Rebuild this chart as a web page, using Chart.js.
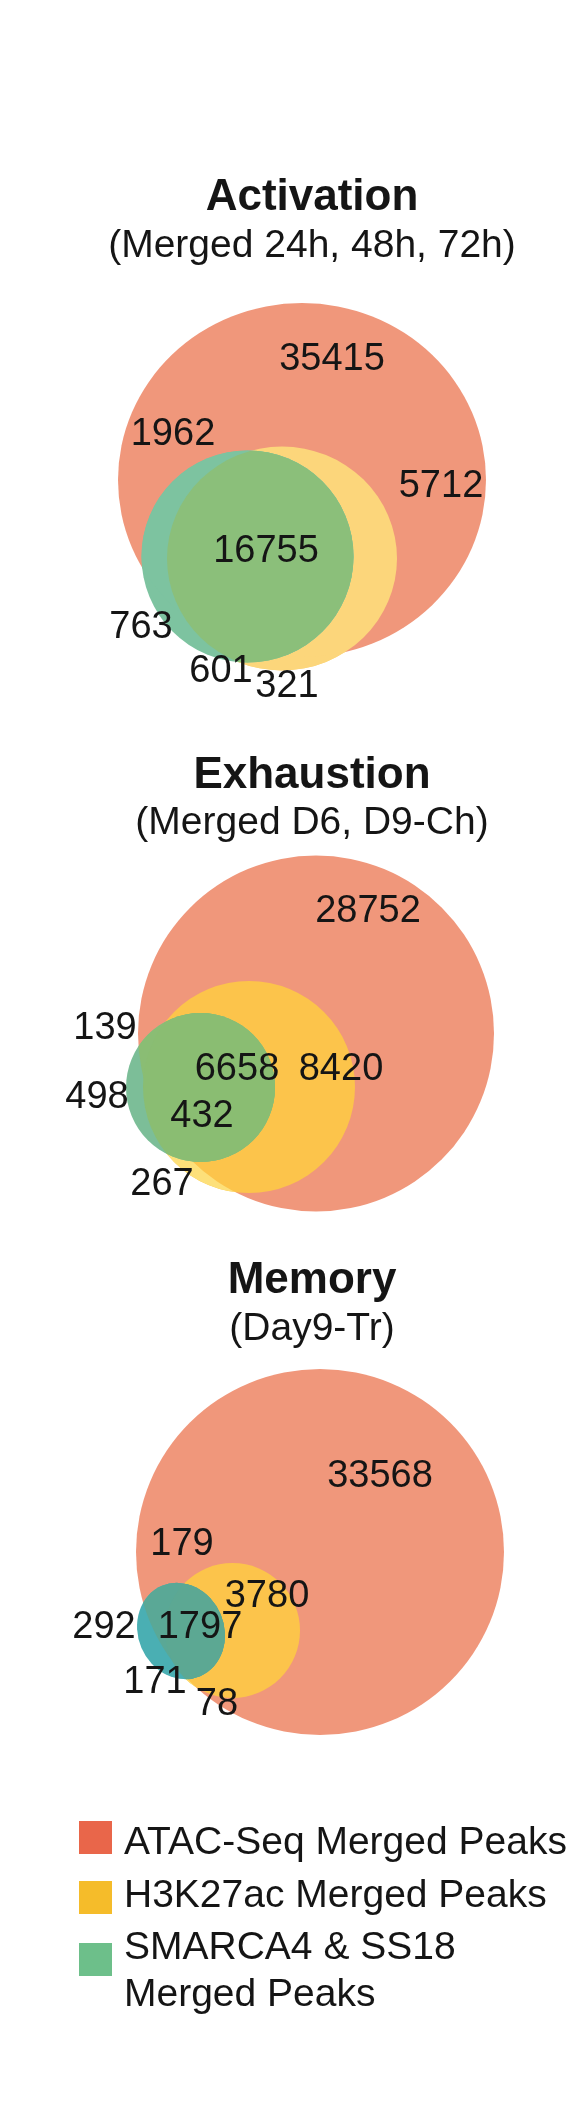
<!DOCTYPE html>
<html>
<head>
<meta charset="utf-8">
<script src="https://cdn.jsdelivr.net/npm/chart.js@4.4.1/dist/chart.umd.min.js"></script>
<style>
html,body{margin:0;padding:0;background:#fff;width:567px;height:2116px;overflow:hidden;}
#wrap{position:relative;width:567px;height:2116px;overflow:hidden;}
#c{position:absolute;left:0;top:0;}
#legend{position:absolute;left:0;top:0;width:567px;height:2116px;font-family:'Liberation Sans',Arial,Helvetica,sans-serif;font-size:39px;color:#151515;}
.sw{position:absolute;width:33px;height:33px;}
.lt{position:absolute;white-space:pre;line-height:47px;}
</style>
</head>
<body>
<div id="wrap">
<canvas id="c" width="567" height="2116"></canvas>
<div id="legend"></div>
</div>
<script>
// ---------- data ----------
const panelTitles = ['Activation', 'Exhaustion', 'Memory'];
const panelSubtitles = ['(Merged 24h, 48h, 72h)', '(Merged D6, D9-Ch)', '(Day9-Tr)'];
const setNames = ['ATAC-Seq Merged Peaks', 'H3K27ac Merged Peaks', 'SMARCA4 & SS18\nMerged Peaks'];
const activationCounts = [35415, 1962, 5712, 16755, 763, 601, 321];
const exhaustionCounts = [28752, 139, 6658, 8420, 498, 432, 267];
const memoryCounts = [33568, 179, 3780, 292, 1797, 171, 78];
const panelCounts = [activationCounts, exhaustionCounts, memoryCounts];

// ---------- layout (axis units) ----------
const labelPos = [
  [[332,360],[173,435],[441,487],[266,552],[141,628],[221,672],[287,687]],
  [[368,912],[105,1029],[237,1070],[341,1070],[97,1098],[202,1117],[162,1185]],
  [[380,1477],[182,1545],[267,1597],[104,1628],[200,1628],[155,1683],[217,1705]]
];
const titlePos = [[312,210,257],[312,788,834],[312,1293,1340]];
const shapes = [
  { red:{x:302,y:480,rx:184,ry:177,rot:0},
    yellow:{x:282,y:558.5,rx:115,ry:112,rot:0},
    green:{x:247.5,y:556.5,rx:106,ry:106,rot:0} },
  { red:{x:316,y:1033.5,rx:178,ry:178,rot:0},
    yellow:{x:249,y:1087,rx:106,ry:106,rot:0},
    green:{x:200.5,y:1087.5,rx:74.5,ry:74.5,rot:0} },
  { red:{x:320,y:1552,rx:184,ry:183,rot:0},
    yellow:{x:232.5,y:1630.5,rx:67.5,ry:67.5,rot:0},
    green:{x:181,y:1631,rx:43,ry:49,rot:-0.4} }
];
// ---------- styles ----------
const FONT = "'Liberation Sans', Arial, Helvetica, sans-serif";
const palettes = [
  {red:'#F0977B', yellow:'#FCD67B', yellowOut:'#FCD67B', greenW:'#7DC3A0', greenR:'#7DC3A0', greenY:'#8BBF7A'},
  {red:'#F0977B', yellow:'#FCC44B', yellowOut:'#FDE07A', greenW:'#7CBE98', greenR:'#8ABD74', greenY:'#8ABD72'},
  {red:'#F0977B', yellow:'#FCC44B', yellowOut:'#FDE07A', greenW:'#4AAFB3', greenR:'#5AA896', greenY:'#5CA893'}
];
const legendColors = ['#E9664A', '#F5BC2A', '#6DBF8A'];

const datasets = panelCounts.map((counts, p) => ({
  label: panelTitles[p],
  data: counts.map((v, i) => ({ x: labelPos[p][i][0], y: labelPos[p][i][1], v: v })),
  pointRadius: 0,
  pointHoverRadius: 0,
  showLine: false
}));

function toPx(chart, s) {
  const xs = chart.scales.x, ys = chart.scales.y;
  const px = xs.getPixelForValue(s.x), py = ys.getPixelForValue(s.y);
  return {
    px, py,
    prx: Math.abs(xs.getPixelForValue(s.x + s.rx) - px),
    pry: Math.abs(ys.getPixelForValue(s.y + s.ry) - py),
    rot: s.rot || 0
  };
}
function shapePath(ctx, s) {
  ctx.beginPath();
  ctx.ellipse(s.px, s.py, s.prx, s.pry, s.rot, 0, Math.PI * 2);
}
function fillClipped(ctx, clipShape, shape, color) {
  ctx.save();
  shapePath(ctx, clipShape); ctx.clip();
  shapePath(ctx, shape); ctx.fillStyle = color; ctx.fill();
  ctx.restore();
}

const vennPlugin = {
  id: 'venn',
  beforeDatasetsDraw(chart) {
    const ctx = chart.ctx;
    shapes.forEach((sh, p) => {
      const pal = palettes[p];
      const R = toPx(chart, sh.red), Y = toPx(chart, sh.yellow), G = toPx(chart, sh.green);
      ctx.save();
      shapePath(ctx, R); ctx.fillStyle = pal.red; ctx.fill();
      shapePath(ctx, Y); ctx.fillStyle = pal.yellow; ctx.fill();
      // yellow outside red
      ctx.save();
      ctx.beginPath();
      ctx.rect(0, 0, chart.width, chart.height);
      ctx.ellipse(R.px, R.py, R.prx, R.pry, R.rot, 0, Math.PI * 2);
      ctx.clip('evenodd');
      shapePath(ctx, Y); ctx.fillStyle = pal.yellowOut; ctx.fill();
      ctx.restore();
      // green: over white, over red, over yellow
      shapePath(ctx, G); ctx.fillStyle = pal.greenW; ctx.fill();
      fillClipped(ctx, R, G, pal.greenR);
      fillClipped(ctx, Y, G, pal.greenY);
      ctx.restore();
    });
  },
  afterDatasetsDraw(chart) {
    const ctx = chart.ctx;
    const xs = chart.scales.x, ys = chart.scales.y;
    ctx.save();
    ctx.fillStyle = '#151515';
    ctx.textAlign = 'center';
    // counts
    ctx.textBaseline = 'middle';
    ctx.font = '38px ' + FONT;
    chart.data.datasets.forEach((ds, i) => {
      const meta = chart.getDatasetMeta(i);
      meta.data.forEach((pt, j) => {
        ctx.fillText(String(ds.data[j].v), pt.x, pt.y);
      });
    });
    // titles
    ctx.textBaseline = 'alphabetic';
    titlePos.forEach((t, p) => {
      const x = xs.getPixelForValue(t[0]);
      ctx.font = 'bold 44px ' + FONT;
      ctx.fillText(panelTitles[p], x, ys.getPixelForValue(t[1]));
      ctx.font = '39px ' + FONT;
      ctx.fillText(panelSubtitles[p], x, ys.getPixelForValue(t[2]));
    });
    ctx.restore();
  }
};

new Chart(document.getElementById('c'), {
  type: 'scatter',
  data: { datasets },
  options: {
    responsive: false,
    animation: false,
    events: [],
    layout: { padding: 0 },
    plugins: { legend: { display: false }, tooltip: { enabled: false }, title: { display: false } },
    scales: {
      x: { type: 'linear', min: 0, max: 567, display: false },
      y: { type: 'linear', min: 0, max: 2116, reverse: true, display: false }
    }
  },
  plugins: [vennPlugin]
});

// ---------- legend ----------
const legendSwatchTop = [1821, 1881, 1943];
const legendTextTop = [1817, 1870, 1922];
const legendEl = document.getElementById('legend');
setNames.forEach((name, i) => {
  const sw = document.createElement('div');
  sw.className = 'sw';
  sw.style.left = '79px';
  sw.style.top = legendSwatchTop[i] + 'px';
  sw.style.background = legendColors[i];
  legendEl.appendChild(sw);
  const t = document.createElement('div');
  t.className = 'lt';
  t.style.left = '124px';
  t.style.top = legendTextTop[i] + 'px';
  t.textContent = name;
  legendEl.appendChild(t);
});
</script>
</body>
</html>
